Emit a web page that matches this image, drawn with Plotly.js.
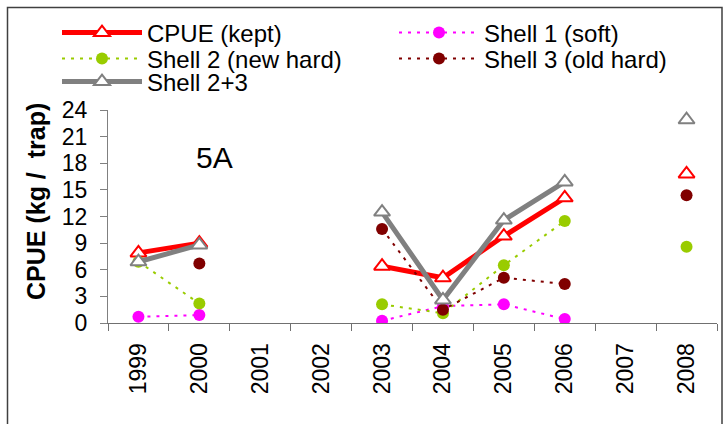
<!DOCTYPE html>
<html>
<head>
<meta charset="utf-8">
<script src="https://cdn.plot.ly/plotly-3.0.1.min.js"></script>
<style>body{margin:0;background:#fff}#chart{width:726px;height:424px}</style>
</head>
<body>
<div id="chart"></div>
<script>
const years = ['1999','2000','2001','2002','2003','2004','2005','2006','2007','2008'];
const cpueKept = [7.9, 9.0, null, null, 6.4, 5.1, 9.8, 14.1, null, 16.8];
const shell1 = [0.7, 0.9, null, null, 0.25, 1.9, 2.1, 0.45, null, null];
const shell2 = [6.9, 2.2, null, null, 2.1, 1.1, 6.5, 11.5, null, 8.6];
const shell3 = [null, 6.7, null, null, 10.6, 1.5, 5.1, 4.4, null, 14.4];
const shell23 = [6.9, 8.8, null, null, 12.5, 2.6, 11.6, 15.9, null, 22.9];
const yTicks = [0, 3, 6, 9, 12, 15, 18, 21, 24];

const FONT = 'Arial, "Liberation Sans", sans-serif';
const dash = '3px,6px';

const traces = [
  {name:'CPUE (kept)', x:years, y:cpueKept, type:'scatter', mode:'lines+markers', legend:'legend',
   line:{color:'#FF0000', width:5}, marker:{symbol:'triangle-up', size:14, color:'#ffffff', line:{color:'#FF0000', width:2}}},
  {name:'Shell 1 (soft)', x:years, y:shell1, type:'scatter', mode:'lines+markers', legend:'legend2',
   line:{color:'#FF00FF', width:2, dash:dash}, marker:{symbol:'circle', size:12, color:'#FF00FF'}},
  {name:'Shell 2 (new hard)', x:years, y:shell2, type:'scatter', mode:'lines+markers', legend:'legend3',
   line:{color:'#99CC00', width:2, dash:dash}, marker:{symbol:'circle', size:12, color:'#99CC00'}},
  {name:'Shell 3 (old hard)', x:years, y:shell3, type:'scatter', mode:'lines+markers', legend:'legend4',
   line:{color:'#800000', width:2, dash:dash}, marker:{symbol:'circle', size:12, color:'#800000'}},
  {name:'Shell 2+3', x:years, y:shell23, type:'scatter', mode:'lines+markers', legend:'legend5',
   line:{color:'#808080', width:5}, marker:{symbol:'triangle-up', size:14, color:'#ffffff', line:{color:'#808080', width:2}}}
];

const L = 108, R = 717, T = 110, B = 323;
const W = R - L, H = B - T;
const px = v => (v - L) / W;
const py = v => (B - v) / H;

function leg(xpx, ypx){
  return {x:px(xpx), y:py(ypx), xanchor:'left', yanchor:'middle', xref:'paper', yref:'paper',
    orientation:'v', bgcolor:'rgba(0,0,0,0)', borderwidth:0, itemwidth:80,
    font:{family:FONT, size:24, color:'#000'}, itemclick:false};
}

const layout = {
  width:726, height:424,
  margin:{l:L, r:726-R, t:T, b:424-B, autoexpand:false},
  paper_bgcolor:'#ffffff', plot_bgcolor:'#ffffff',
  font:{family:FONT, color:'#000'},
  showlegend:true,
  legend: leg(57, 33),
  legend2: leg(394, 33),
  legend3: leg(57, 59),
  legend4: leg(394, 59),
  legend5: leg(57, 82),
  xaxis:{type:'category', categoryorder:'array', categoryarray:years, range:[-0.5, 9.5],
    showline:true, linecolor:'#707070', linewidth:1, showgrid:false, zeroline:false,
    ticks:'outside', tickson:'boundaries', ticklen:7, tickcolor:'#707070', tickwidth:1,
    ticklabelstandoff:10,
    tickangle:-90, tickfont:{family:FONT, size:23, color:'#000'}},
  yaxis:{range:[0,24], tickvals:yTicks, ticktext:yTicks.map(String),
    showline:true, linecolor:'#808080', linewidth:1, showgrid:false, zeroline:false,
    ticks:'outside', ticklen:7, tickcolor:'#808080', tickwidth:1,
    ticklabelstandoff:8,
    tickfont:{family:FONT, size:23, color:'#000'}},
  annotations:[
    {text:'CPUE (kg /\u00a0 trap)', textangle:-90, xref:'paper', yref:'paper', x:px(36), y:py(202),
     xanchor:'center', yanchor:'middle', showarrow:false, font:{family:FONT, size:25, color:'#000', weight:'bold'}},
    {text:'5A', xref:'paper', yref:'paper', x:px(214.5), y:py(157), xanchor:'center', yanchor:'middle',
     showarrow:false, font:{family:FONT, size:30, color:'#000'}}
  ],
  shapes:[
    {type:'rect', xref:'paper', yref:'paper', x0:px(7.5), x1:px(722), y0:py(440), y1:py(7.5),
     line:{color:'#404040', width:1.5}, layer:'above'}
  ]
};

Plotly.newPlot('chart', traces, layout, {staticPlot:true, displayModeBar:false});
</script>
</body>
</html>
